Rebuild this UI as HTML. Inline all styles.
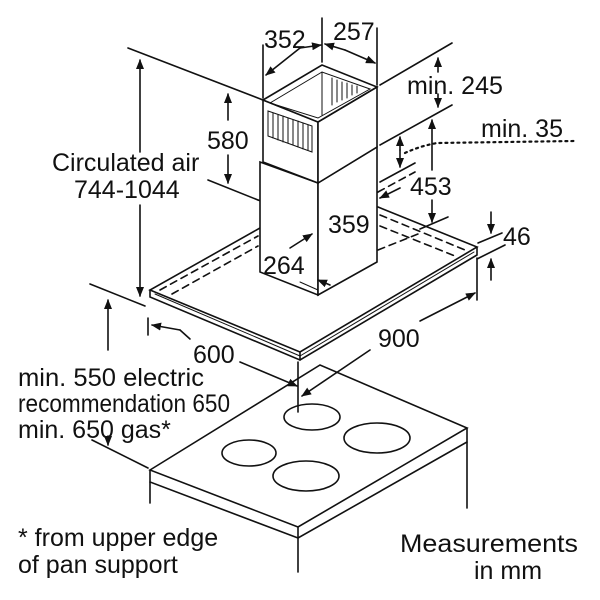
<!DOCTYPE html>
<html><head><style>
html,body{margin:0;padding:0;background:#fff;}
svg{display:block;}
text{font-family:"Liberation Sans",Arial,sans-serif;font-size:25px;fill:#111;}
</style></head><body>
<svg width="600" height="600" viewBox="0 0 600 600" xmlns="http://www.w3.org/2000/svg">
<defs>
<marker id="a" markerWidth="10" markerHeight="8" refX="9" refY="4" orient="auto" markerUnits="userSpaceOnUse"><path d="M0,0 L10,4 L0,8 z" fill="#111"/></marker>
</defs>
<g stroke="#111" stroke-width="1.6" fill="none" stroke-linecap="round">
<polygon points="150,470 320,365 467,428 298,527" fill="#fff"/>
<polyline points="150,470 150,482 298,538 467,442 467,428"/>
<line x1="298" y1="527" x2="298" y2="538"/>
<line x1="150" y1="482" x2="150" y2="503"/>
<line x1="298" y1="538" x2="298" y2="572"/>
<line x1="467" y1="442" x2="467" y2="508"/>
<ellipse cx="312" cy="417" rx="28" ry="13"/>
<ellipse cx="377" cy="438" rx="33" ry="15"/>
<ellipse cx="249" cy="453" rx="27" ry="13"/>
<ellipse cx="306" cy="476" rx="33" ry="15"/>
<polyline points="260,228 150,290 300,352 477,247 378,207"/>
<polyline points="150,290 150,297 300,360 477,255 477,247"/>
<line x1="300" y1="352" x2="300" y2="360"/>
<line x1="155" y1="294" x2="300" y2="356" stroke-width="1"/>
<line x1="300" y1="356" x2="474" y2="252" stroke-width="1"/>
<g stroke-dasharray="7,5">
<line x1="160" y1="290" x2="258" y2="236"/>
<line x1="172" y1="294" x2="258" y2="246"/>
<line x1="380" y1="215" x2="465" y2="250"/>
<line x1="380" y1="226" x2="455" y2="256"/>
<line x1="378" y1="250" x2="418" y2="234"/>
<line x1="258" y1="200" x2="318" y2="222"/>
<line x1="318" y1="222" x2="378" y2="192"/>
<line x1="378" y1="192" x2="415" y2="172"/>
</g>
<polygon points="260,162 318,183 318,295 260,272" fill="#fff"/>
<polygon points="318,183 377,147 377,262 318,295" fill="#fff"/>
<polygon points="263,100 318,122 318,183 263,162" fill="#fff"/>
<polygon points="318,122 377,87 377,147 318,183" fill="#fff"/>
<polygon points="263,100 322,65 377,87 318,122" fill="#fff"/>
<polygon points="270,103 322,72 370,89 318,118" stroke-width="1"/>
<line x1="322" y1="72" x2="322" y2="115" stroke-width="1"/>
<g stroke-width="1">
<polygon points="268,111 312,126 312,152 268,136"/>
<line x1="273" y1="113" x2="273" y2="138"/><line x1="278" y1="115" x2="278" y2="140"/><line x1="283" y1="116" x2="283" y2="142"/><line x1="288" y1="118" x2="288" y2="143"/><line x1="293" y1="120" x2="293" y2="145"/><line x1="298" y1="121" x2="298" y2="147"/><line x1="303" y1="123" x2="303" y2="149"/><line x1="308" y1="125" x2="308" y2="150"/>
<line x1="332" y1="78" x2="332" y2="105"/><line x1="337" y1="80" x2="337" y2="102"/><line x1="342" y1="82" x2="342" y2="100"/><line x1="347" y1="83" x2="347" y2="98"/><line x1="352" y1="85" x2="352" y2="95"/><line x1="357" y1="86" x2="357" y2="93"/>
</g>
<line x1="128" y1="48" x2="263" y2="100"/>
<line x1="140" y1="152" x2="140" y2="60" marker-end="url(#a)"/>
<line x1="140" y1="205" x2="140" y2="296" marker-end="url(#a)"/>
<line x1="208" y1="180" x2="258" y2="200"/>
<line x1="228" y1="120" x2="228" y2="94" marker-end="url(#a)"/>
<line x1="228" y1="155" x2="228" y2="183" marker-end="url(#a)"/>
<line x1="263" y1="45" x2="263" y2="98"/>
<line x1="322" y1="18" x2="322" y2="62"/>
<line x1="377" y1="28" x2="377" y2="85"/>
<line x1="300" y1="48" x2="266" y2="75" marker-end="url(#a)"/>
<line x1="300" y1="48" x2="321" y2="45" marker-end="url(#a)"/>
<line x1="345" y1="50" x2="375" y2="63" marker-end="url(#a)"/>
<line x1="345" y1="50" x2="325" y2="44" marker-end="url(#a)"/>
<line x1="380" y1="85" x2="452" y2="43"/>
<line x1="380" y1="145" x2="452" y2="105"/>
<line x1="438" y1="72" x2="438" y2="58" marker-end="url(#a)"/>
<line x1="438" y1="94" x2="438" y2="107" marker-end="url(#a)"/>
<line x1="432" y1="170" x2="432" y2="120" marker-end="url(#a)"/>
<line x1="432" y1="200" x2="432" y2="222" marker-end="url(#a)"/>
<line x1="420" y1="229" x2="448" y2="217"/>
<line x1="380" y1="182" x2="415" y2="163"/>
<line x1="400" y1="150" x2="400" y2="137" marker-end="url(#a)"/>
<line x1="400" y1="150" x2="400" y2="167" marker-end="url(#a)"/>
<path d="M405,153 Q420,146 437,143 L575,141" stroke-dasharray="2,4" stroke-width="2.2"/>
<line x1="400" y1="188" x2="380" y2="198" marker-end="url(#a)"/>
<line x1="478" y1="243" x2="502" y2="233"/>
<line x1="477" y1="259" x2="505" y2="245"/>
<line x1="491" y1="212" x2="491" y2="233" marker-end="url(#a)"/>
<line x1="491" y1="280" x2="491" y2="259" marker-end="url(#a)"/>
<line x1="290" y1="248" x2="312" y2="234" marker-end="url(#a)"/>
<line x1="300" y1="282" x2="318" y2="290" stroke-width="1"/>
<line x1="330" y1="285" x2="318" y2="280" marker-end="url(#a)"/>
<line x1="148" y1="318" x2="148" y2="335"/>
<line x1="180" y1="330" x2="152" y2="325" marker-end="url(#a)"/>
<line x1="180" y1="330" x2="190" y2="339"/>
<line x1="240" y1="362" x2="297" y2="386" marker-end="url(#a)"/>
<line x1="298" y1="362" x2="298" y2="412"/>
<line x1="477" y1="258" x2="477" y2="300"/>
<line x1="420" y1="321" x2="475" y2="293" marker-end="url(#a)"/>
<line x1="370" y1="350" x2="302" y2="396" marker-end="url(#a)"/>
<line x1="90" y1="284" x2="145" y2="306"/>
<line x1="108" y1="350" x2="108" y2="300" marker-end="url(#a)"/>
<line x1="92" y1="440" x2="148" y2="468"/>
<line x1="108" y1="436" x2="108" y2="445" marker-end="url(#a)"/>
</g>
<text x="264" y="48">352</text>
<text x="333" y="40">257</text>
<text x="407" y="94">min. 245</text>
<text x="481" y="137">min. 35</text>
<text x="410" y="195">453</text>
<text x="328" y="233">359</text>
<text x="263" y="274">264</text>
<text x="503" y="245">46</text>
<text x="207" y="149">580</text>
<text x="52" y="171">Circulated air</text>
<text x="74" y="198">744-1044</text>
<text x="193" y="363">600</text>
<text x="378" y="347">900</text>
<text x="18" y="386" textLength="186" lengthAdjust="spacingAndGlyphs">min. 550 electric</text>
<text x="18" y="412" textLength="212" lengthAdjust="spacingAndGlyphs">recommendation 650</text>
<text x="18" y="438">min. 650 gas*</text>
<text x="18" y="546">* from upper edge</text>
<text x="18" y="573">of pan support</text>
<text x="400" y="552" textLength="178" lengthAdjust="spacingAndGlyphs">Measurements</text>
<text x="474" y="579">in mm</text>
</svg>
</body></html>
